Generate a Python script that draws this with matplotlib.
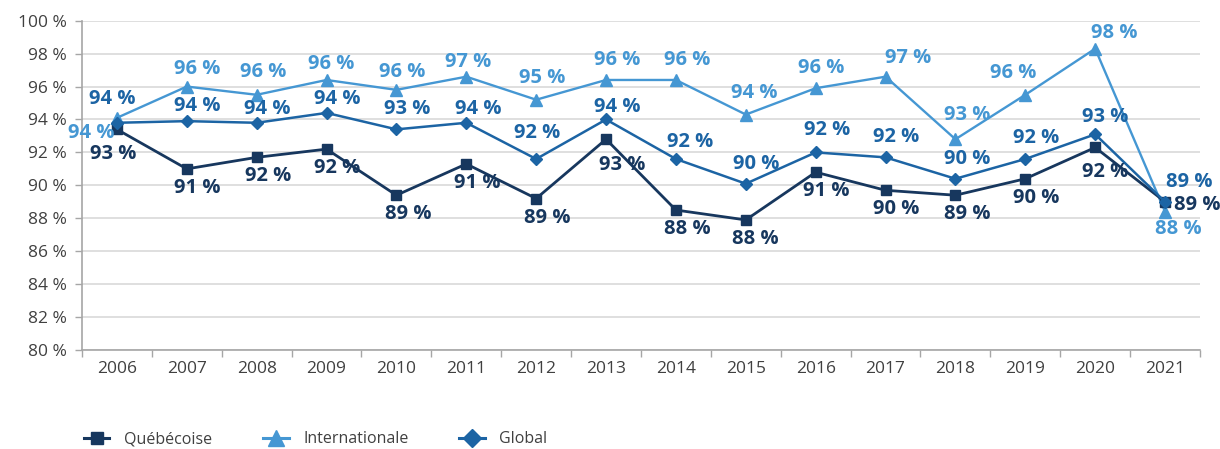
import matplotlib.pyplot as plt
from matplotlib.lines import Line2D

# ---------------- DATA ----------------
years = [str(y) for y in range(2006, 2022)]
quebecoise = [93.4, 91.0, 91.7, 92.2, 89.4, 91.3, 89.2, 92.8,
              88.5, 87.9, 90.8, 89.7, 89.4, 90.4, 92.3, 89.0]
internationale = [94.1, 96.0, 95.5, 96.4, 95.8, 96.6, 95.2, 96.4,
                  96.4, 94.3, 95.9, 96.6, 92.8, 95.5, 98.3, 88.4]
global_ = [93.8, 93.9, 93.8, 94.4, 93.4, 93.8, 91.6, 94.0,
           91.6, 90.1, 92.0, 91.7, 90.4, 91.6, 93.1, 89.0]
y_ticks = list(range(80, 101, 2))

# ---------------- STYLE ----------------
C_QC = '#17375E'
C_INT = '#4597D3'
C_GLB = '#1C64A4'
GRID = '#D9D9D9'
AXIS = '#A6A6A6'
TXT = '#404040'
plt.rcParams['font.family'] = ['Open Sans', 'DejaVu Sans']

# label offsets in pixels (dx, dy), per point
off_qc = [(-4, -25), (10, -19), (11, -19), (11, -19), (12, -19), (11, -19),
          (11, -19), (16, -26), (11, -19), (10, -19), (11, -19), (11, -19),
          (12, -19), (11, -19), (10, -25), (32, -3)]
off_int = [(-26, -15), (10, 18), (7, 23), (5, 16), (6, 18), (2, 15),
           (6, 22), (11, 20), (11, 20), (8, 22), (6, 20), (23, 19),
           (12, 24), (-12, 22), (19, 16), (13, -17)]
off_glb = [(-5, 24), (10, 15), (11, 14), (11, 14), (11, 20), (12, 14),
           (1, 26), (11, 12), (14, 17), (10, 20), (11, 22), (11, 20),
           (12, 20), (11, 21), (10, 17), (24, 20)]

fig = plt.figure(figsize=(12.2, 4.49), dpi=100)
ax = fig.add_axes([0.0672, 0.2205, 0.9164, 0.7334])

x = list(range(len(years)))
ax.plot(x, internationale, color=C_INT, lw=1.7, marker='^', ms=9, zorder=3)
ax.plot(x, quebecoise, color=C_QC, lw=2.0, marker='s', ms=7.5, zorder=4)
ax.plot(x, global_, color=C_GLB, lw=1.8, marker='D', ms=6.5, zorder=5)

for vals, offs, col in [(internationale, off_int, C_INT),
                        (global_, off_glb, C_GLB),
                        (quebecoise, off_qc, C_QC)]:
    for i, (v, (dx, dy)) in enumerate(zip(vals, offs)):
        ax.annotate(f'{v:.0f} %', (i, v), xytext=(dx, dy),
                    textcoords='offset pixels', ha='center', va='center',
                    fontsize=14.5, fontweight='bold', color=col, zorder=6)

ax.set_xlim(-0.5, len(years) - 0.5)
ax.set_ylim(80, 100)
ax.set_yticks(y_ticks)
ax.set_yticklabels([f'{t} %' for t in y_ticks], fontsize=12.5, color=TXT)
ax.set_xticks(x)
ax.set_xticklabels(years, fontsize=12.5, color=TXT)
ax.set_xticks([i - 0.5 for i in range(len(years) + 1)], minor=True)
ax.tick_params(axis='x', which='major', length=0, pad=8)
ax.tick_params(axis='x', which='minor', length=5, color=AXIS, width=1)
ax.tick_params(axis='y', length=5, color=AXIS, width=1, pad=6)

ax.grid(axis='y', color=GRID, lw=1.2)
ax.set_axisbelow(True)
for s in ['top', 'right']:
    ax.spines[s].set_visible(False)
for s in ['left', 'bottom']:
    ax.spines[s].set_color(AXIS)
    ax.spines[s].set_linewidth(1.2)

handles = [
    Line2D([], [], color=C_QC, lw=2.2, marker='s', ms=9),
    Line2D([], [], color=C_INT, lw=2.2, marker='^', ms=11),
    Line2D([], [], color=C_GLB, lw=2.2, marker='D', ms=9),
]
fig.legend(handles, ['Québécoise', 'Internationale', 'Global'],
           loc='center left', bbox_to_anchor=(0.057, 0.022), ncol=3,
           frameon=False, fontsize=11.5, labelcolor=TXT,
           handlelength=1.6, columnspacing=3.2, handletextpad=0.9)

fig.savefig('out.png', dpi=100)
